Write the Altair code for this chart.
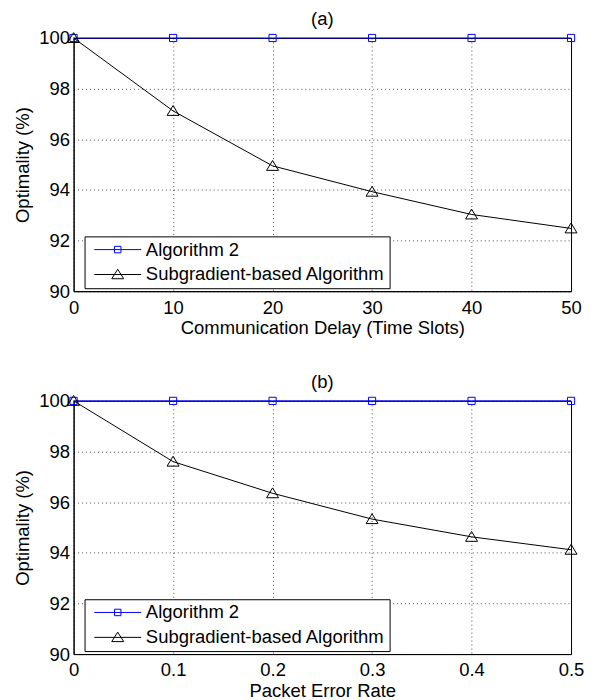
import altair as alt
import pandas as pd

series = ["Algorithm 2", "Subgradient-based Algorithm"]
colors = ["#0000ff", "#000000"]

delay = [0, 10, 20, 30, 40, 50]
alg2_a = [100, 100, 100, 100, 100, 100]
sub_a = [100, 97.12, 94.95, 93.93, 93.03, 92.48]

per = [0, 0.1, 0.2, 0.3, 0.4, 0.5]
alg2_b = [100, 100, 100, 100, 100, 100]
sub_b = [100, 97.6, 96.35, 95.33, 94.63, 94.12]

y_ticks = [90, 92, 94, 96, 98, 100]

FONT = "Liberation Sans"
FS = 18.5

sq_path = "M-0.6,-0.6L0.6,-0.6L0.6,0.6L-0.6,0.6Z"
tri_path = "M-1,0.75L1,0.75L0,-0.9Z"
leg_sq = "M-4.7,0L4.7,0M-0.65,-0.65L0.65,-0.65L0.65,0.65L-0.65,0.65Z"
leg_tri = "M-4.7,0L4.7,0M-1.2,0.85L1.2,0.85L0,-1.05Z"


def frame(x, a, s):
    rows = []
    for xi, v in zip(x, a):
        rows.append({"x": xi, "y": v, "s": series[0], "o": 1})
    for xi, v in zip(x, s):
        rows.append({"x": xi, "y": v, "s": series[1], "o": 0})
    return pd.DataFrame(rows)


def panel(df, title, xtitle, xdomain, xvals, xfmt):
    xenc = alt.X("x:Q", title=xtitle,
                 scale=alt.Scale(domain=xdomain, nice=False, zero=False),
                 axis=alt.Axis(values=xvals, format=xfmt, labelFlush=False))
    yenc = alt.Y("y:Q", title="Optimality (%)",
                 scale=alt.Scale(domain=[90, 100], nice=False, zero=False),
                 axis=alt.Axis(values=y_ticks, labelFlush=False))
    cscale = alt.Scale(domain=series, range=colors)
    legend = alt.Legend(
        title=None, orient="none", legendX=11, legendY=199,
        fillColor="white", strokeColor="black", padding=4,
        labelFont=FONT, labelFontSize=FS, labelColor="black", labelLimit=0,
        symbolSize=100, symbolStrokeWidth=1, rowPadding=6, symbolOpacity=1,
        symbolOffset=20, labelOffset=19,
    )
    line = alt.Chart(df).mark_line(strokeWidth=1).encode(
        x=xenc, y=yenc,
        color=alt.Color("s:N", scale=cscale, legend=None),
        order="o:Q",
    )
    pts = alt.Chart(df).mark_point(filled=False, strokeWidth=1, size=144, opacity=1).encode(
        x=xenc, y=yenc,
        color=alt.Color("s:N", scale=cscale, legend=None),
        shape=alt.Shape("s:N", scale=alt.Scale(domain=series, range=[sq_path, tri_path]), legend=None),
    )
    leg = alt.Chart(df).transform_filter("datum.y > 1000").mark_point(
        filled=False, strokeWidth=1, size=100, opacity=1
    ).encode(
        x=xenc, y=yenc,
        color=alt.Color("s:N", scale=cscale, legend=legend),
        shape=alt.Shape("s:N", scale=alt.Scale(domain=series, range=[leg_sq, leg_tri]), legend=legend),
    )
    return alt.layer(line, pts, leg).resolve_scale(shape="independent", color="independent").properties(
        width=499, height=254,
        title=alt.TitleParams(title, fontSize=FS, font=FONT, fontWeight="normal", offset=0.5, color="black"),
    )


pa = panel(frame(delay, alg2_a, sub_a), "(a)", "Communication Delay (Time Slots)", [0, 50], delay, "d")
pb = panel(frame(per, alg2_b, sub_b), "(b)", "Packet Error Rate", [0, 0.5], per, "~g")

chart = alt.vconcat(pa, pb, spacing=34).properties(
    padding={"left": 4.8, "top": 0, "right": 0, "bottom": 0}
).configure_view(
    stroke="black", strokeWidth=1
).configure_axis(
    labelFont=FONT, titleFont=FONT, labelFontSize=FS, titleFontSize=FS,
    labelColor="black", titleColor="black", titleFontWeight="normal",
    domainColor="black", domainWidth=1, tickSize=0,
    grid=True, gridColor="black", gridDash=[1, 3], gridOpacity=0.7, gridWidth=1,
    labelPadding=7, titlePadding=2,
).configure_axisY(
    labelPadding=4, titlePadding=6,
)

chart.save("out.html", embed_options={"renderer": "svg", "actions": False})
